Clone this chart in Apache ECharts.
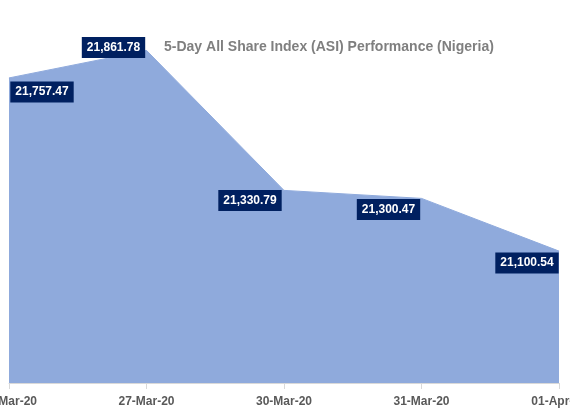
<!DOCTYPE html>
<html>
<head>
<meta charset="utf-8">
<script src="https://cdn.jsdelivr.net/npm/echarts@6/dist/echarts.min.js"></script>
<style>html,body{margin:0;padding:0;background:#fff;}#c{width:570px;height:417px;}</style>
</head>
<body>
<div id="c"></div>
<script>
const categories = ['26-Mar-20', '27-Mar-20', '30-Mar-20', '31-Mar-20', '01-Apr-20'];
const asiValues = [21757.47, 21861.78, 21330.79, 21300.47, 21100.54];
const chartTitle = '5-Day All Share Index (ASI) Performance (Nigeria)';

const labelOffsets = [[33, 14], [-33, -3], [-34, 10], [-33, 11], [-32, 12]];

function fmt(v) {
  return v.toLocaleString('en-US', {minimumFractionDigits: 2, maximumFractionDigits: 2});
}

const chart = echarts.init(document.getElementById('c'));
chart.setOption({
  animation: false,
  title: {
    text: chartTitle,
    left: 159, top: 35,
    textStyle: {color: '#7f7f7f', fontSize: 14, fontWeight: 'bold', fontFamily: 'Liberation Sans'}
  },
  grid: {left: 9, right: 11, top: 14, bottom: 34, containLabel: false, outerBoundsMode: 'none'},
  xAxis: {
    type: 'category',
    data: categories,
    boundaryGap: false,
    axisLine: {lineStyle: {color: '#d9d9d9', width: 1}},
    axisTick: {show: true, length: 6, lineStyle: {color: '#d9d9d9'}},
    axisLabel: {color: '#595959', fontSize: 12, fontWeight: 'bold', fontFamily: 'Liberation Sans', margin: 13, showMinLabel: true, showMaxLabel: true, interval: 0, hideOverlap: false},
    z: 10
  },
  yAxis: {
    type: 'value', min: 20600, max: 22000, interval: 200, show: false,
    splitLine: {show: false}
  },
  series: [{
    type: 'line',
    data: asiValues.map((v, i) => ({value: v, label: {offset: labelOffsets[i]}})),
    symbol: 'circle', symbolSize: 0.5, showSymbol: true,
    itemStyle: {color: '#8faadc'},
    lineStyle: {color: '#8faadc', width: 1},
    areaStyle: {color: '#8faadc', opacity: 1},
    label: {
      show: true, position: 'inside',
      formatter: p => fmt(p.value),
      color: '#ffffff', fontSize: 12, fontWeight: 'bold', fontFamily: 'Liberation Sans',
      backgroundColor: '#002060', padding: [5, 5, 4, 5]
    }
  }]
});
</script>
</body>
</html>
